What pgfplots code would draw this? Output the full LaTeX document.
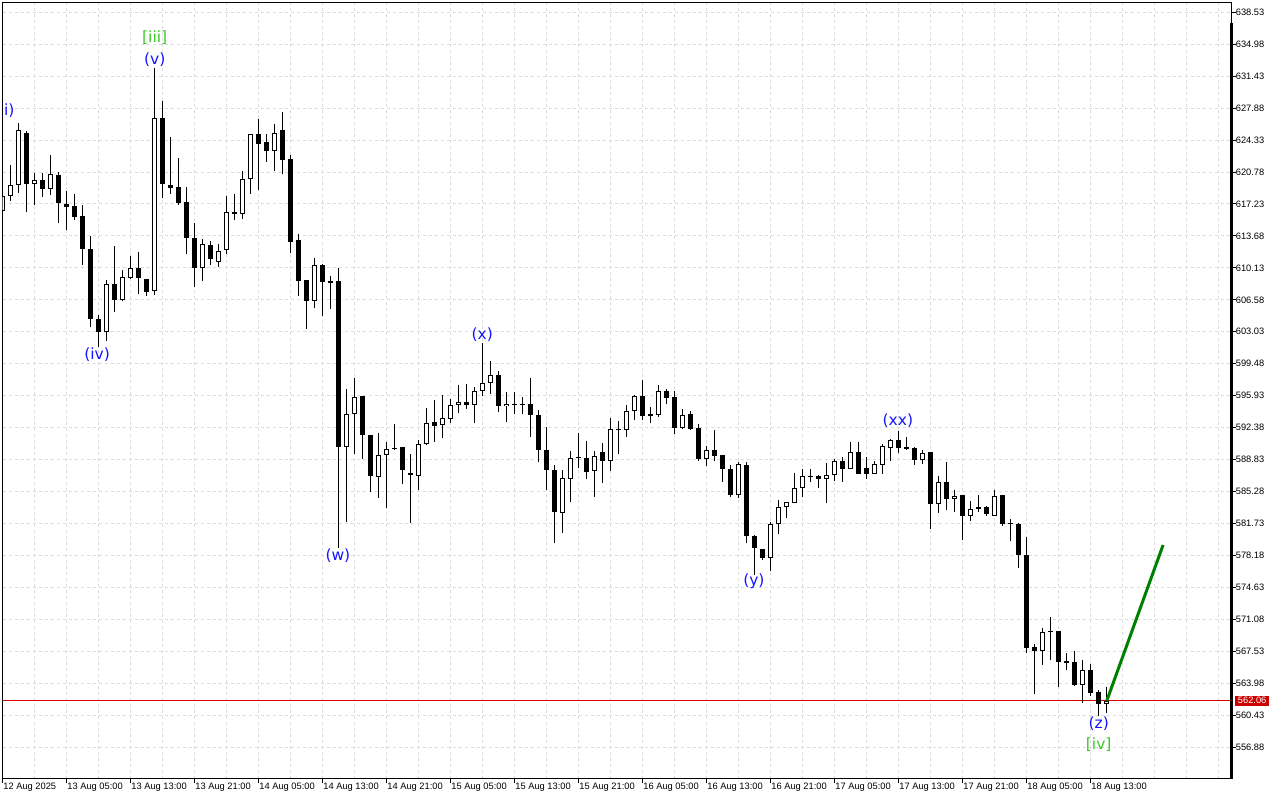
\documentclass[border=0pt]{standalone}
\usepackage{fontspec}
\setmainfont{Liberation Sans}
\newfontfamily\wavefont{DejaVu Sans}
\usepackage{pgfplots}
\usepackage{pgfplotstable}
\pgfplotsset{compat=1.18}
\definecolor{waveblue}{RGB}{20,20,255}
\definecolor{wavegreen}{RGB}{60,200,40}
\definecolor{gridgray}{RGB}{220,220,220}
\definecolor{bidred}{RGB}{220,0,0}
\definecolor{pricered}{RGB}{204,0,0}
\definecolor{fcgreen}{RGB}{0,128,0}

% hollow (bullish) candles: index, open, high, low, close
\pgfplotstableread{
i o h l c
0 616.49 618.64 616.42 618.08
1 618.12 621.61 617.53 619.38
2 619.38 626.19 618.45 625.49
4 619.49 620.67 617.08 619.94
6 618.94 622.64 618.23 620.56
13 603.05 608.83 602.05 608.38
15 606.61 609.94 606.42 609.12
16 609.01 611.42 608.86 610.12
19 607.53 632.34 607.16 626.78
25 610.12 613.31 608.64 612.83
27 610.78 612.83 610.23 612.05
28 612.12 618.08 611.67 616.31
30 616.12 620.94 615.56 620.05
31 620.05 625.05 618.34 624.97
34 623.08 626.08 620.86 625.16
39 606.50 611.23 605.67 610.49
43 590.23 596.67 581.86 593.94
44 593.94 597.86 589.45 595.83
47 586.94 591.75 584.56 589.38
48 589.38 590.75 583.45 590.05
52 587.05 591.05 585.45 590.61
53 590.56 594.56 590.49 592.94
55 592.72 596.01 591.23 593.42
56 593.38 595.61 592.89 594.94
57 594.94 597.12 593.97 595.27
59 594.94 596.86 592.89 596.49
60 596.49 601.75 595.90 597.38
61 597.38 599.75 596.12 598.27
63 594.83 596.31 593.01 595.05
70 582.89 587.72 580.67 586.83
71 586.72 589.83 584.12 589.01
74 587.60 589.75 584.67 589.27
76 588.72 593.42 587.61 592.27
78 592.16 594.86 591.38 594.27
79 594.27 596.05 593.23 595.86
82 593.83 597.16 593.56 596.49
85 592.34 594.50 592.20 593.75
88 588.89 590.38 588.08 589.94
92 584.86 588.56 584.56 588.31
96 577.90 581.90 576.42 581.72
97 581.72 584.31 580.56 583.56
98 583.60 584.12 582.34 584.12
99 584.05 587.31 584.05 585.72
100 585.72 587.75 584.64 587.01
103 586.72 588.45 584.01 587.12
104 587.12 588.90 586.50 588.72
106 587.83 590.75 587.80 589.72
109 587.27 588.72 587.20 588.31
110 588.27 590.56 587.27 590.31
111 590.16 591.12 588.72 590.97
115 588.78 589.90 588.38 589.61
117 583.94 586.97 582.90 586.31
119 584.49 585.50 583.01 584.83
121 582.60 584.27 581.97 583.38
124 582.60 585.42 582.55 584.83
130 567.61 570.12 566.01 569.72
135 563.83 566.60 561.78 565.42
138 561.72 563.53 560.67 561.98
}\bull

% black (bearish) candles: index, open, high, low, close
\pgfplotstableread{
i o h l c
3 625.08 625.31 616.34 619.45
5 619.94 620.67 618.01 618.89
7 620.49 620.75 615.12 617.34
8 617.27 618.64 614.31 616.89
9 616.97 618.38 615.42 615.78
10 615.86 617.16 610.42 612.23
11 612.27 613.64 603.56 604.45
12 604.49 604.86 601.31 603.01
14 608.38 612.53 605.23 606.61
17 610.12 611.86 607.27 609.01
18 608.94 608.94 607.05 607.45
20 626.78 628.72 617.89 619.45
21 619.38 624.64 618.34 619.01
22 619.08 622.31 617.16 617.34
23 617.42 619.08 611.67 613.45
24 613.45 615.08 608.01 610.12
26 612.72 613.08 610.42 611.12
29 616.31 618.34 615.49 616.12
32 624.97 626.67 618.75 623.89
33 624.08 625.05 621.90 623.08
35 625.42 627.42 620.56 622.08
36 622.19 622.64 611.78 613.01
37 613.19 613.86 606.97 608.64
38 608.75 608.75 603.34 606.42
40 610.42 610.56 604.75 608.53
41 608.64 609.19 605.56 608.45
42 608.64 610.12 579.01 590.23
45 595.86 595.94 588.89 591.61
46 591.53 591.53 585.23 587.01
49 590.16 592.75 589.89 590.01
50 590.19 590.19 586.12 587.67
51 587.31 589.45 581.78 587.16
54 592.97 595.45 590.83 592.60
58 595.27 597.23 594.45 594.94
62 598.27 598.64 594.12 594.83
64 595.05 596.31 593.94 594.89
65 595.05 595.75 593.90 594.89
66 595.05 597.90 591.34 593.83
67 593.83 594.38 588.56 589.89
68 589.94 592.42 585.45 587.72
69 587.72 588.27 579.56 582.99
72 589.16 591.75 587.90 589.01
73 589.05 590.86 586.67 587.49
75 589.64 590.64 586.23 588.72
77 592.27 593.16 589.45 592.12
80 595.86 597.64 593.23 593.72
81 593.86 594.72 592.86 593.72
83 596.49 596.72 595.00 595.67
84 595.75 596.42 591.69 592.34
86 593.86 594.27 592.08 592.23
87 592.31 592.83 588.64 588.89
89 589.94 592.16 588.64 589.23
90 589.31 589.31 586.34 587.75
91 587.75 588.27 584.64 584.86
93 588.27 588.53 579.53 580.34
94 580.31 580.42 576.05 579.01
95 578.94 578.94 577.72 577.90
101 587.05 587.83 586.31 586.94
102 587.05 587.16 585.67 586.72
105 588.72 589.08 586.34 587.83
107 589.72 590.75 587.20 587.27
108 587.86 589.08 586.72 587.27
112 590.97 591.97 589.56 590.16
113 590.23 591.31 589.90 590.05
114 590.08 590.23 588.23 588.78
116 589.64 589.64 581.16 583.94
118 586.31 588.56 583.20 584.45
120 584.86 584.86 579.94 582.53
122 583.53 584.86 583.01 583.38
123 583.53 583.64 582.60 582.78
125 584.86 584.90 581.49 581.67
126 581.78 582.19 579.75 581.67
127 581.72 581.80 576.78 578.27
128 578.19 580.19 567.34 567.90
129 567.97 568.39 562.83 567.61
131 569.75 571.30 566.56 569.64
132 569.75 569.83 563.56 566.34
133 566.42 567.34 565.49 566.23
134 566.38 567.53 563.64 563.78
136 565.42 566.12 562.53 562.89
137 562.97 563.19 560.31 561.72
}\bear

\begin{document}
\begin{tikzpicture}
\path[use as bounding box, fill=white] (0pt,0pt) rectangle (1280pt,800pt);
\begin{axis}[
  at={(2.7pt,21pt)}, anchor=south west,
  scale only axis, width=1229pt, height=776.3pt,
  xmin=0, xmax=153.625, ymin=553.341, ymax=639.597,
  axis line style={line width=1pt, black},
  xtick={0,8,...,136},
  xticklabels={12 Aug 2025,13 Aug 05:00,13 Aug 13:00,13 Aug 21:00,14 Aug 05:00,14 Aug 13:00,14 Aug 21:00,15 Aug 05:00,15 Aug 13:00,15 Aug 21:00,16 Aug 05:00,16 Aug 13:00,16 Aug 21:00,17 Aug 05:00,17 Aug 13:00,17 Aug 21:00,18 Aug 05:00,18 Aug 13:00},
  minor xtick={4,12,20,28,36,44,52,60,68,76,84,92,100,108,116,124,132,140,144,148,152},
  ytick={638.53,634.98,631.43,627.88,624.33,620.78,617.23,613.68,610.13,606.58,603.03,599.48,595.93,592.38,588.83,585.28,581.73,578.18,574.63,571.08,567.53,563.98,560.43,556.88},
  yticklabels={638.53,634.98,631.43,627.88,624.33,620.78,617.23,613.68,610.13,606.58,603.03,599.48,595.93,592.38,588.83,585.28,581.73,578.18,574.63,571.08,567.53,563.98,560.43,556.88},
  xtick pos=left, ytick pos=right, yticklabel pos=right,
  tick align=outside, major tick length=4pt, minor tick length=0pt,
  every tick/.append style={black, line width=1pt},
  xmajorgrids, xminorgrids, ymajorgrids,
  major grid style={gridgray, line width=1pt, dash pattern=on 3pt off 3pt},
  minor grid style={gridgray, line width=1pt, dash pattern=on 3pt off 3pt},
  tick label style={font=\fontsize{9.3}{11}\selectfont, black},
  xticklabel style={anchor=north west, inner sep=0pt, xshift=0.5pt},
  yticklabel style={anchor=west, inner sep=0pt},
]
% bid line
\addplot[bidred, line width=1pt] coordinates {(0,562.06) (160,562.06)};
% wicks
\addplot[black, line width=1pt, quiver={u=0, v=\thisrow{h}-\thisrow{l}}] table[x=i, y=l] {\bull};
\addplot[black, line width=1pt, quiver={u=0, v=\thisrow{h}-\thisrow{l}}] table[x=i, y=l] {\bear};
% bodies
\addplot[black, line width=5pt, quiver={u=0, v=\thisrow{o}-\thisrow{c}}] table[x=i, y=c] {\bear};
\addplot[black, line width=5pt, quiver={u=0, v=\thisrow{c}-\thisrow{o}}] table[x=i, y=o] {\bull};
\addplot[white, line width=3pt, shorten <=1pt, shorten >=1pt, quiver={u=0, v=\thisrow{c}-\thisrow{o}}] table[x=i, y=o] {\bull};
% forecast line
\addplot[fcgreen, line width=3pt] coordinates {(138,562.01) (145.05,579.34)};
% wave labels
\begin{scope}[every node/.style={font=\fontsize{15.5}{18}\wavefont, inner sep=0pt}]
\node[text=waveblue] at (axis cs:0.45,627.62) {(i)};
\node[text=wavegreen] at (axis cs:19.0,635.67) {[iii]};
\node[text=waveblue] at (axis cs:19.0,633.32) {(v)};
\node[text=waveblue] at (axis cs:11.8,600.45) {(iv)};
\node[text=waveblue] at (axis cs:41.9,578.12) {(w)};
\node[text=waveblue] at (axis cs:59.95,602.76) {(x)};
\node[text=waveblue] at (axis cs:93.9,575.34) {(y)};
\node[text=waveblue] at (axis cs:111.9,593.14) {(xx)};
\node[text=waveblue] at (axis cs:137.0,559.45) {(z)};
\node[text=wavegreen] at (axis cs:137.0,557.15) {[iv]};
\end{scope}
\coordinate (pl) at (axis cs:153.625,562.06);
\coordinate (br) at (rel axis cs:1,0);
\coordinate (tr) at (rel axis cs:1,0.9735);
\end{axis}
\draw[black, line width=2.4pt] (br) -- (tr);
\node[fill=pricered, text=white, inner sep=0pt, minimum height=10pt, minimum width=34pt, anchor=west, font=\fontsize{9.3}{11}\selectfont] at ([xshift=3.3pt]pl) {562.06};
\end{tikzpicture}
\end{document}
